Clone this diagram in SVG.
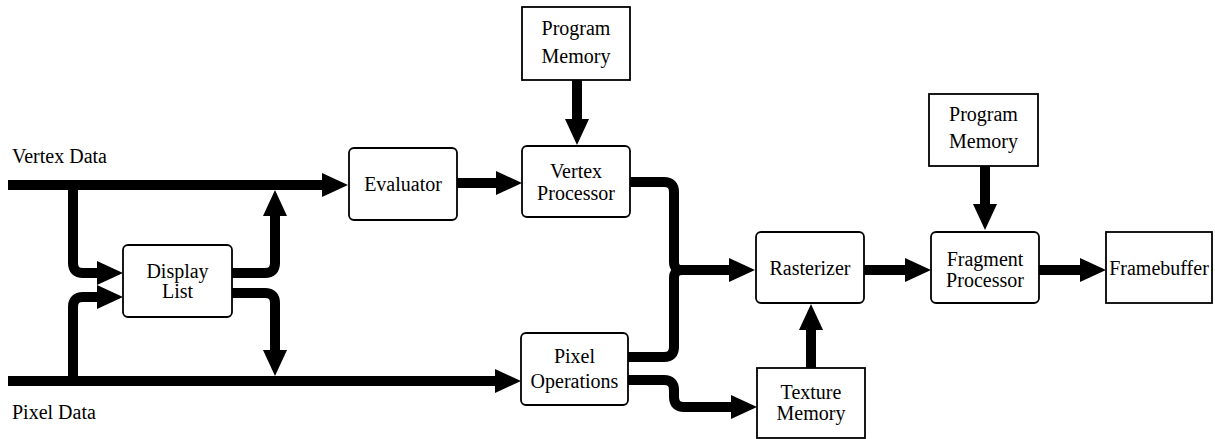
<svg xmlns="http://www.w3.org/2000/svg" width="1215" height="439" viewBox="0 0 1215 439">
  <style>
    .box { fill: #fff; stroke: #000; stroke-width: 1.8; }
    .lbl { font-family: "Liberation Serif", "Times New Roman", serif; font-size: 20px; fill: #000; text-anchor: middle; }
    .lbl.left { text-anchor: start; }
    .wire { fill: none; stroke: #000; stroke-width: 10; stroke-linecap: butt; stroke-linejoin: round; }
    .wire.arrow { marker-end: url(#head); }
  </style>
  <defs>
    <marker id="head" markerUnits="userSpaceOnUse" markerWidth="27" markerHeight="25" refX="0" refY="12" orient="auto" overflow="visible">
      <path d="M0,0 L26,12 L0,24 Z" fill="#000"/>
    </marker>
  </defs>

  <rect width="1215" height="439" fill="#fff"/>

  <!-- input labels -->
  <text class="lbl left" x="12" y="163">Vertex Data</text>
  <text class="lbl left" x="12" y="419">Pixel Data</text>

  <!-- data paths -->
  <g id="connectors">
    <path class="wire arrow" d="M8,185 H322"/>
    <path class="wire arrow" d="M73,185 V263 Q73,273 83,273 H97"/>
    <path class="wire arrow" d="M8,381 H495"/>
    <path class="wire arrow" d="M73,381 V307 Q73,297 83,297 H97"/>
    <path class="wire arrow" d="M232,273 H265 Q275,273 275,263 V216"/>
    <path class="wire arrow" d="M232,293 H265 Q275,293 275,303 V350"/>
    <path class="wire arrow" d="M457,183 H496"/>
    <path class="wire arrow" d="M577,80 V119"/>
    <path class="wire arrow" d="M630,182 H664 Q674,182 674,192 V262 Q674,270 682,270 H729"/>
    <path class="wire" d="M628,357 H664 Q674,357 674,347 V278 Q674,270 682,270"/>
    <path class="wire arrow" d="M628,380 H664 Q674,380 674,390 V397 Q674,407 684,407 H731"/>
    <path class="wire arrow" d="M811,368 V330"/>
    <path class="wire arrow" d="M864,270 H905"/>
    <path class="wire arrow" d="M985,165 V204"/>
    <path class="wire arrow" d="M1039,270 H1080"/>
  </g>

  <g id="display-list">
    <rect class="box" x="123" y="245" width="109" height="72" rx="5"/>
    <text class="lbl" x="177.5" y="278">Display</text>
    <text class="lbl" x="177.5" y="298">List</text>
  </g>

  <g id="evaluator">
    <rect class="box" x="349" y="148" width="108" height="72" rx="5"/>
    <text class="lbl" x="403" y="191">Evaluator</text>
  </g>

  <g id="program-memory-vertex">
    <rect class="box" x="522" y="7" width="108" height="73"/>
    <text class="lbl" x="576" y="35">Program</text>
    <text class="lbl" x="576" y="63">Memory</text>
  </g>

  <g id="vertex-processor">
    <rect class="box" x="522" y="146" width="108" height="71" rx="5"/>
    <text class="lbl" x="576" y="178">Vertex</text>
    <text class="lbl" x="576" y="200">Processor</text>
  </g>

  <g id="pixel-operations">
    <rect class="box" x="521" y="333" width="107" height="72" rx="5"/>
    <text class="lbl" x="574.5" y="363">Pixel</text>
    <text class="lbl" x="574.5" y="388">Operations</text>
  </g>

  <g id="rasterizer">
    <rect class="box" x="756" y="232" width="108" height="71" rx="5"/>
    <text class="lbl" x="810" y="275">Rasterizer</text>
  </g>

  <g id="texture-memory">
    <rect class="box" x="757" y="368" width="108" height="70"/>
    <text class="lbl" x="811" y="399">Texture</text>
    <text class="lbl" x="811" y="420">Memory</text>
  </g>

  <g id="program-memory-fragment">
    <rect class="box" x="929" y="94" width="109" height="72"/>
    <text class="lbl" x="983.5" y="121">Program</text>
    <text class="lbl" x="983.5" y="148">Memory</text>
  </g>

  <g id="fragment-processor">
    <rect class="box" x="931" y="232" width="108" height="71" rx="5"/>
    <text class="lbl" x="985" y="266">Fragment</text>
    <text class="lbl" x="985" y="287">Processor</text>
  </g>

  <g id="framebuffer">
    <rect class="box" x="1106" y="232" width="106" height="71"/>
    <text class="lbl" x="1159" y="275">Framebuffer</text>
  </g>
</svg>
